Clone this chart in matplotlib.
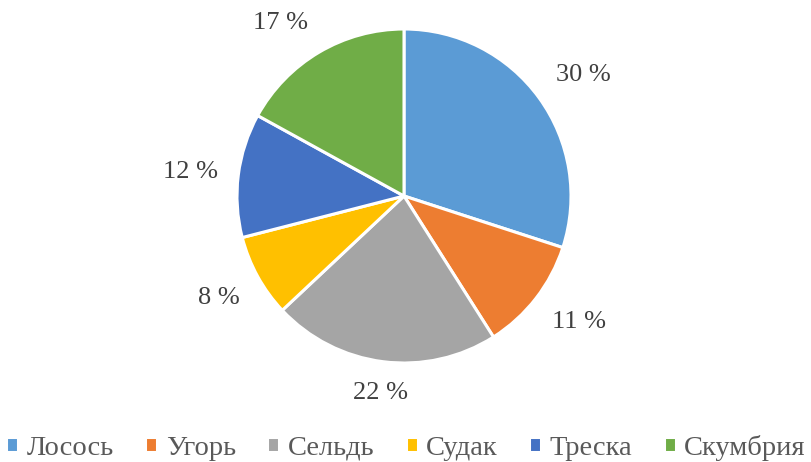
import numpy as np
import matplotlib.pyplot as plt

fish = ['Лосось', 'Угорь', 'Сельдь', 'Судак', 'Треска', 'Скумбрия']
shares = [30, 11, 22, 8, 12, 17]
colors = ['#5B9BD5', '#ED7D31', '#A5A5A5', '#FFC000', '#4472C4', '#70AD47']

plt.rcParams['font.family'] = ['Liberation Serif', 'DejaVu Serif']

W, H = 812, 462
fig = plt.figure(figsize=(W / 100, H / 100), dpi=100)
cx, cy, r = 404, 196, 167
ax = fig.add_axes([(cx - r) / W, (H - cy - r) / H, 2 * r / W, 2 * r / H])

wedges, texts = ax.pie(
    shares, colors=colors, startangle=90, counterclock=False,
    wedgeprops=dict(edgecolor='white', linewidth=2.2))
ax.set_xlim(-1, 1)
ax.set_ylim(-1, 1)

# labels outside the end of each slice, Excel-like
for w, v in zip(wedges, shares):
    th = np.deg2rad((w.theta1 + w.theta2) / 2)
    c, s = np.cos(th), np.sin(th)
    ha = 'left' if c > 0.3 else ('right' if c < -0.3 else 'center')
    va = 'bottom' if s > 0.3 else ('top' if s < -0.3 else 'center')
    ax.text(1.125 * c, 1.125 * s, '%d %%' % v, ha=ha, va=va,
            fontsize=19, color='#404040')

leg = fig.legend(wedges, fish, loc='center', bbox_to_anchor=(0.5, 1 - 448 / H),
                 ncol=6, frameon=False, fontsize=20.5, handlelength=0.42,
                 handleheight=0.42, handletextpad=0.3, columnspacing=1.1,
                 borderaxespad=0)
for t in leg.get_texts():
    t.set_color('#595959')

fig.savefig('out.png', dpi=100)
